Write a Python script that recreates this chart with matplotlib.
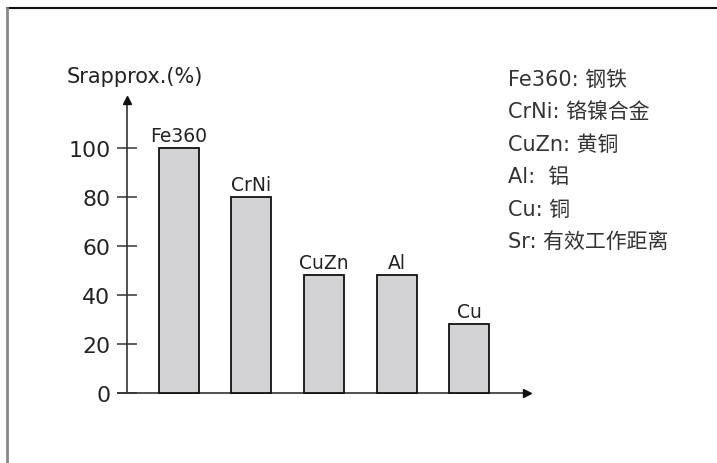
import matplotlib
matplotlib.use("Agg")
import matplotlib.pyplot as plt
from matplotlib.lines import Line2D

plt.rcParams['font.family'] = ['DejaVu Sans', 'Noto Sans CJK SC']

materials = ["Fe360", "CrNi", "CuZn", "Al", "Cu"]
sr_values = [100, 80, 48, 48, 28]
y_ticks = [0, 20, 40, 60, 80, 100]
legend_lines = ["Fe360: 钢铁", "CrNi: 铬镍合金", "CuZn: 黄铜", "Al:  铝", "Cu: 铜", "Sr: 有效工作距离"]

W, H = 717, 464
fig = plt.figure(figsize=(W / 100, H / 100), dpi=100)
ax = fig.add_axes([0, 0, 1, 1])

# pixel mapping: bar 0 centre at x=178.7px, 72.65px per bar ; y=0 at 394px, 2.45px per unit
px_x0, px_dx = 178.7, 72.65
px_y0, px_dy = 394.0, 2.45
ax.set_xlim(-px_x0 / px_dx, (W - px_x0) / px_dx)
ax.set_ylim(-(H - px_y0) / px_dy, px_y0 / px_dy)
ax.patch.set_alpha(0)

x = list(range(len(materials)))
ax.bar(x, sr_values, width=0.55, color="#d3d3d5", edgecolor="#111111", linewidth=1.3, zorder=3)

for xi, v, name in zip(x, sr_values, materials):
    ax.text(xi, v + 3.0, name, ha="center", va="baseline", fontsize=13.5, color="#222222")

# axes with arrows
y_axis_x = (127.3 - px_x0) / px_dx
x_start = (118 - px_x0) / px_dx
x_end = (530 - px_x0) / px_dx
y_top = (px_y0 - 98) / px_dy

for side in ["top", "right"]:
    ax.spines[side].set_visible(False)
ax.spines["left"].set_position(("data", y_axis_x))
ax.spines["bottom"].set_position(("data", 0))
ax.spines["left"].set_bounds(0, y_top - 2)
ax.spines["bottom"].set_bounds(x_start, x_end - 0.06)
for side in ["left", "bottom"]:
    ax.spines[side].set_color("#333333")
    ax.spines[side].set_linewidth(1.2)

ax.plot(x_end - 0.045, 0, marker=">", markersize=6, color="#111111", clip_on=False, zorder=4)
ax.plot(y_axis_x, y_top - 1.3, marker="^", markersize=5.5, color="#111111", clip_on=False, zorder=4)

ax.set_xticks([])
ax.set_yticks(y_ticks)
ax.set_yticklabels([str(t) for t in y_ticks], fontsize=15.8, color="#222222")
ax.tick_params(axis="y", direction="inout", length=14.4, width=1.1, color="#333333", pad=5)

ax.text((135 - px_x0) / px_dx, (px_y0 - 83) / px_dy, "Srapprox.(%)", ha="center", va="baseline",
        fontsize=15, color="#222222")

# explanation text on the right
for i, line in enumerate(legend_lines):
    fig.text(508 / W, 1 - (86 + 32.4 * i) / H, line, ha="left", va="baseline",
             fontsize=15, color="#333333")

# partial frame (top and left edges)
fig.add_artist(Line2D([7 / W, 1], [1 - 9 / H, 1 - 9 / H], color="#111111", linewidth=1.5))
fig.add_artist(Line2D([7 / W, 7 / W], [0, 1 - 9 / H], color="#888888", linewidth=2))

fig.savefig("out.png", dpi=100)
